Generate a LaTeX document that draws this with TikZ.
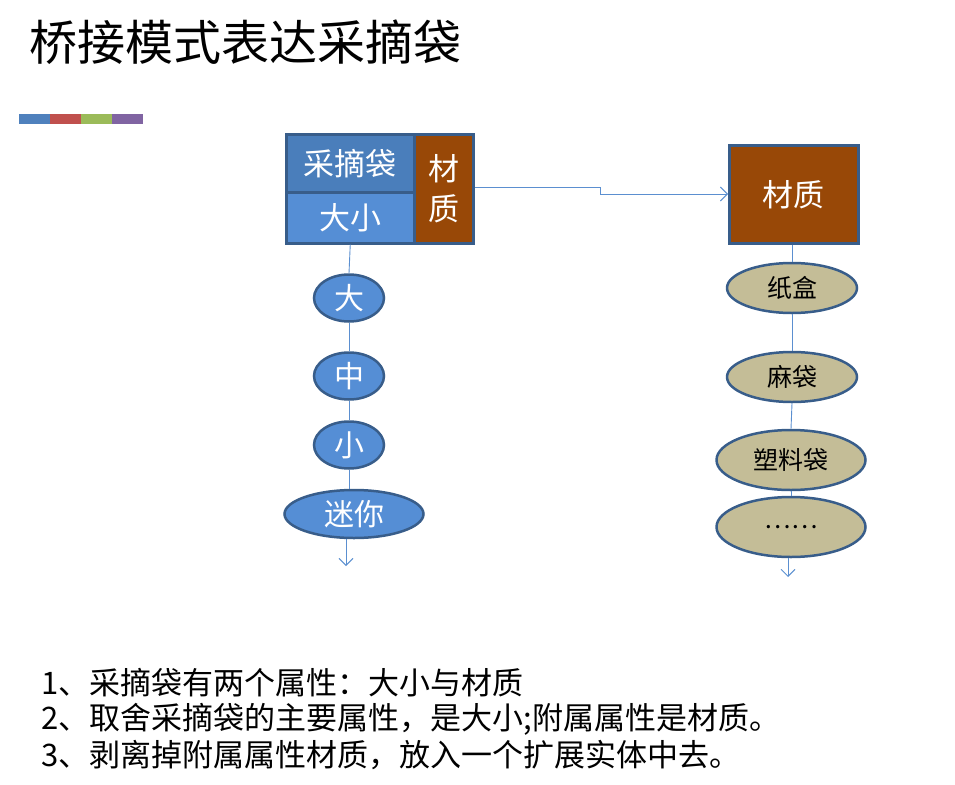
\documentclass[tikz,border=0pt]{standalone}
\usepackage{fontspec}
\setmainfont{Noto Sans CJK SC}
\usetikzlibrary{arrows.meta,shapes.geometric}
\definecolor{bdr}{HTML}{385D8A}
\definecolor{blueA}{HTML}{4A7EBB}
\definecolor{blueB}{HTML}{558ED5}
\definecolor{brn}{HTML}{984807}
\definecolor{tan}{HTML}{C4BD97}
\definecolor{lnk}{HTML}{5B8FD0}
\definecolor{cb1}{HTML}{4F81BD}
\definecolor{cb2}{HTML}{C0504D}
\definecolor{cb3}{HTML}{9BBB59}
\definecolor{cb4}{HTML}{8064A2}
\begin{document}
\begin{tikzpicture}[x=1pt,y=-1pt,
  cell/.style={draw=bdr,line width=2.5pt,text=white,inner sep=0pt,font=\fontsize{31}{34}\selectfont},
  bel/.style={ellipse,draw=bdr,line width=2.5pt,fill=blueB,text=white,inner sep=0pt,font=\fontsize{30}{34}\selectfont},
  tel/.style={ellipse,draw=bdr,line width=2.5pt,fill=tan,text=black,inner sep=0pt,font=\fontsize{25}{28}\selectfont},
  link/.style={draw=lnk,line width=0.9pt},
  tip/.style={-{Straight Barb[length=7pt,width=14pt,line width=0.9pt]}},
  btxt/.style={anchor=west,font=\fontsize{31}{34}\selectfont}
]
\useasboundingbox (0,0) rectangle (955,784);
\node[anchor=west,font=\fontsize{48}{54}\selectfont] (title) at (26,42) {桥接模式表达采摘袋};
\fill[cb1] (19,114) rectangle (50,124);
\fill[cb2] (50,114) rectangle (81,124);
\fill[cb3] (81,114) rectangle (112,124);
\fill[cb4] (112,114) rectangle (143,124);
% left box
\node[cell,fill=blueA,minimum width=128pt,minimum height=58pt,anchor=north west] (bag) at (285,133) {采摘袋};
\node[cell,fill=blueB,minimum width=128pt,minimum height=51pt,anchor=north west] (size) at (285,191) {大小};
\node[cell,fill=brn,minimum width=59pt,minimum height=109pt,anchor=north west,align=center,font=\fontsize{31}{40}\selectfont] (mat) at (413,133) {材\\质};
% right box
\node[cell,fill=brn,minimum width=129pt,minimum height=98pt,anchor=north west] (mat2) at (728,144) {材质};
% left ellipses
\node[bel,minimum width=70pt,minimum height=47pt] (da) at (349,298) {大};
\node[bel,minimum width=70pt,minimum height=47pt] (zhong) at (349,376) {中};
\node[bel,minimum width=70pt,minimum height=47pt] (xiao) at (349,445) {小};
\node[bel,minimum width=139pt,minimum height=48pt] (mini) at (354,514) {迷你};
\coordinate (lend) at (346,566);
% right ellipses
\node[tel,minimum width=130pt,minimum height=50pt] (zh) at (792,288) {纸盒};
\node[tel,minimum width=130pt,minimum height=50pt] (ma) at (792,377) {麻袋};
\node[tel,minimum width=149pt,minimum height=60pt] (su) at (791,460) {塑料袋};
\node[tel,minimum width=149pt,minimum height=60pt] (dots) at (791,527) {……};
\coordinate (rend) at (788,577);
% connectors
\draw[link] (size.south) -- (da.north);
\draw[link] (da.south) -- (zhong.north);
\draw[link] (zhong.south) -- (xiao.north);
\draw[link] (xiao.south) -- (xiao.south |- mini.north);
\draw[link,tip] (mini.south -| lend) -- (lend);
\draw[link] (mat2.south -| zh.north) -- (zh.north);
\draw[link] (zh.south) -- (ma.north);
\draw[link] (ma.south) -- (su.north);
\draw[link] (su.south) -- (dots.north);
\draw[link,tip] (dots.south -| rend) -- (rend);
\draw[link,tip] (mat.east |- 0,187) -- (600,187) -- (600,194) -- (mat2.west |- 0,194);
% bottom text
\node[btxt] (t1) at (38,683) {1、采摘袋有两个属性：大小与材质};
\node[btxt] (t2) at (38,719) {2、取舍采摘袋的主要属性，是大小;附属属性是材质。};
\node[btxt] (t3) at (38,755) {3、剥离掉附属属性材质，放入一个扩展实体中去。};
\end{tikzpicture}
\end{document}
